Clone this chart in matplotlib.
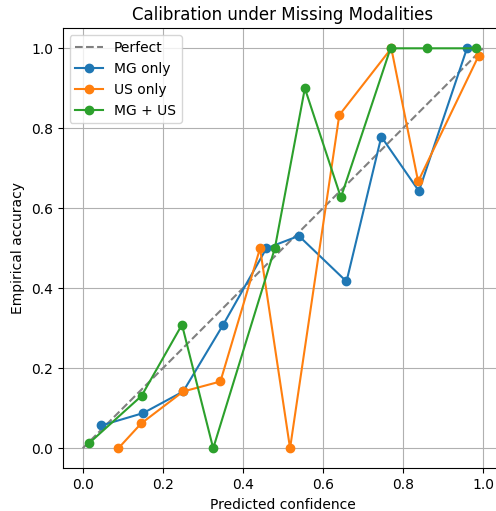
import matplotlib
matplotlib.use("Agg")
import matplotlib.pyplot as plt

# valores
conf_mg = [0.046, 0.151, 0.251, 0.351, 0.459, 0.540, 0.659, 0.746, 0.840, 0.960]
acc_mg = [0.057, 0.088, 0.142, 0.309, 0.500, 0.531, 0.417, 0.779, 0.643, 1.000]

conf_us = [0.089, 0.146, 0.251, 0.344, 0.443, 0.518, 0.641, 0.771, 0.838, 0.989]
acc_us = [0.000, 0.062, 0.142, 0.167, 0.500, 0.000, 0.833, 1.000, 0.667, 0.981]

conf_mgus = [0.015, 0.147, 0.248, 0.326, 0.480, 0.555, 0.645, 0.769, 0.859, 0.982]
acc_mgus = [0.012, 0.131, 0.309, 0.000, 0.500, 0.900, 0.627, 1.000, 1.000, 1.000]

fig = plt.figure(figsize=(4.96, 5.11), dpi=100)
ax = fig.add_axes([62.7 / 496, 42.7 / 511, 440.3 / 496, 440.0 / 511])

ax.plot([0, 1], [0, 1], '--', color='gray', label='Perfect')
ax.plot(conf_mg, acc_mg, marker='o', label='MG only')
ax.plot(conf_us, acc_us, marker='o', label='US only')
ax.plot(conf_mgus, acc_mgus, marker='o', label='MG + US')

ax.set_xlabel('Predicted confidence')
ax.set_ylabel('Empirical accuracy')
ax.set_title('Calibration under Missing Modalities')
ax.legend(loc='upper left')
ax.grid(True)

fig.savefig('out.png', dpi=100)
